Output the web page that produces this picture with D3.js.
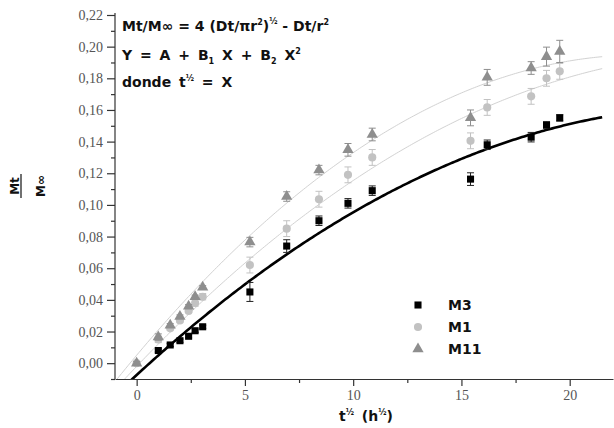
<!DOCTYPE html>
<html>
<head>
<meta charset="utf-8">
<script src="https://cdn.jsdelivr.net/npm/d3@7"></script>
<style>
  body { margin: 0; background: #fff; }
  svg { display: block; }
  .tick text { font-family: "Liberation Serif", "Times New Roman", serif; font-size: 14px; fill: #555; }
  .bold { font-family: "DejaVu Sans", Arial, sans-serif; font-weight: bold; fill: #111; }
</style>
</head>
<body>
<div id="chart"></div>
<script>
// t^1/2 values (h^1/2)
var xM3 = [1.0, 1.55, 2.0, 2.4, 2.7, 3.05, 5.23, 6.93, 8.42, 9.76, 10.88, 15.42, 16.19, 18.22, 18.93, 19.54];
var yM3 = [0.008, 0.0115, 0.0142, 0.017, 0.0205, 0.023, 0.045, 0.074, 0.090, 0.101, 0.109, 0.1163, 0.138, 0.1428, 0.1505, 0.155];
var eM3 = [0.001, 0.001, 0.001, 0.001, 0.001, 0.001, 0.006, 0.004, 0.003, 0.003, 0.003, 0.004, 0.003, 0.003, 0.002, 0.002];

var xM1 = [0, 1.0, 1.55, 2.0, 2.4, 2.7, 3.05, 5.23, 6.93, 8.42, 9.76, 10.88, 15.42, 16.19, 18.22, 18.93, 19.54];
var yM1 = [0.0, 0.015, 0.022, 0.027, 0.033, 0.038, 0.042, 0.062, 0.085, 0.1036, 0.119, 0.130, 0.1405, 0.1616, 0.1686, 0.180, 0.1844];
var eM1 = [0.001, 0.002, 0.001, 0.001, 0.001, 0.002, 0.002, 0.005, 0.005, 0.005, 0.005, 0.005, 0.005, 0.005, 0.005, 0.005, 0.005];

var xM11 = [0, 1.0, 1.55, 2.0, 2.4, 2.7, 3.05, 5.23, 6.93, 8.42, 9.76, 10.88, 15.42, 16.19, 18.22, 18.93, 19.54];
var yM11 = [0.0, 0.0165, 0.024, 0.0295, 0.036, 0.042, 0.048, 0.0765, 0.1053, 0.122, 0.1348, 0.1445, 0.155, 0.1806, 0.1865, 0.1937, 0.197];
var eM11 = [0.001, 0.002, 0.001, 0.001, 0.001, 0.001, 0.001, 0.003, 0.003, 0.003, 0.004, 0.004, 0.005, 0.005, 0.004, 0.006, 0.007];

// fitted Y = A + B1 X + B2 X^2 for M3, M1, M11
var seriesNames = ['M3', 'M1', 'M11'];
var fitA  = [-0.0075, -0.0020, 0.0050];
var fitB1 = [0.01263, 0.01434, 0.01630];
var fitB2 = [-0.000235, -0.00026, -0.00035];

var xTicks = [0, 5, 10, 15, 20];
var yTicks = [0, 0.02, 0.04, 0.06, 0.08, 0.10, 0.12, 0.14, 0.16, 0.18, 0.20, 0.22];

var width = 614, height = 428;
var margin = { top: 15, right: 1, bottom: 49, left: 115 };

var x = d3.scaleLinear().domain([-1, 22]).range([margin.left, width - margin.right]);
var y = d3.scaleLinear().domain([-0.01, 0.22]).range([height - margin.bottom, margin.top]);

var svg = d3.select("#chart").append("svg").attr("width", width).attr("height", height);

var styles = [
  { sym: d3.symbolSquare, size: 50, color: '#000', line: '#000', lw: 2.6 },
  { sym: d3.symbolCircle, size: 52, color: '#c2c2c2', line: '#d2d2d2', lw: 1 },
  { sym: d3.symbolTriangle, size: 55, color: '#8e8e8e', line: '#d2d2d2', lw: 1 }
];

var fmt = function(d) { return d3.format(".2f")(d).replace('.', ','); };

// axes
svg.append("g").attr("transform", "translate(0," + y(-0.01) + ")")
  .call(d3.axisBottom(x).tickValues(xTicks).tickSize(7).tickPadding(4).tickSizeOuter(0));
svg.append("g").attr("transform", "translate(0," + y(-0.01) + ")")
  .call(d3.axisBottom(x).tickValues([2.5, 7.5, 12.5, 17.5]).tickSize(4).tickFormat("").tickSizeOuter(0))
  .select(".domain").remove();

var yAxis = svg.append("g").attr("transform", "translate(" + x(-1) + ",0)")
  .call(d3.axisLeft(y).tickValues(yTicks).tickFormat(fmt).tickSize(8).tickPadding(4).tickSizeOuter(0));
svg.append("g").attr("transform", "translate(" + x(-1) + ",0)")
  .call(d3.axisLeft(y).tickValues(d3.range(-0.01, 0.22, 0.02)).tickSize(4).tickFormat("").tickSizeOuter(0))
  .select(".domain").remove();

svg.selectAll(".domain, .tick line").attr("stroke", "#333").attr("stroke-width", 1.2);
yAxis.select(".domain").attr("d", "M0," + (margin.top - 2) + "V" + y(-0.01));

// clip for fit curves
svg.append("clipPath").attr("id", "plotclip").append("rect")
  .attr("x", x(-1)).attr("y", margin.top - 2)
  .attr("width", x(22) - x(-1)).attr("height", y(-0.01) - margin.top + 2);

var line = d3.line().x(function(d) { return x(d[0]); }).y(function(d) { return y(d[1]); });
var xs = d3.range(-1, 21.55, 0.1);

// draw light fits first, black last
[1, 2, 0].forEach(function(i) {
  var pts = xs.map(function(v) { return [v, fitA[i] + fitB1[i] * v + fitB2[i] * v * v]; });
  svg.append("path").attr("clip-path", "url(#plotclip)")
    .attr("d", line(pts)).attr("fill", "none")
    .attr("stroke", styles[i].line).attr("stroke-width", styles[i].lw);
});

var series = [
  { xs: xM3, ys: yM3, es: eM3 },
  { xs: xM1, ys: yM1, es: eM1 },
  { xs: xM11, ys: yM11, es: eM11 }
];

series.forEach(function(s, i) {
  var st = styles[i];
  var data = s.xs.map(function(v, k) { return { x: v, y: s.ys[k], e: s.es[k] }; });
  var g = svg.append("g");
  var eb = g.selectAll(".eb").data(data).enter().append("g")
    .attr("stroke", i == 0 ? '#222' : st.color).attr("stroke-width", 1);
  eb.append("line")
    .attr("x1", function(d) { return x(d.x); }).attr("x2", function(d) { return x(d.x); })
    .attr("y1", function(d) { return y(d.y - d.e); }).attr("y2", function(d) { return y(d.y + d.e); });
  eb.append("line")
    .attr("x1", function(d) { return x(d.x) - 3.5; }).attr("x2", function(d) { return x(d.x) + 3.5; })
    .attr("y1", function(d) { return y(d.y + d.e); }).attr("y2", function(d) { return y(d.y + d.e); });
  eb.append("line")
    .attr("x1", function(d) { return x(d.x) - 3.5; }).attr("x2", function(d) { return x(d.x) + 3.5; })
    .attr("y1", function(d) { return y(d.y - d.e); }).attr("y2", function(d) { return y(d.y - d.e); });
  g.selectAll(".pt").data(data).enter().append("path")
    .attr("d", d3.symbol().type(st.sym).size(st.size))
    .attr("transform", function(d) { return "translate(" + x(d.x) + "," + y(d.y) + ")"; })
    .attr("fill", st.color);
});

// legend
var legend = svg.append("g");
seriesNames.forEach(function(name, i) {
  var ly = 305 + i * 22;
  legend.append("path").attr("d", d3.symbol().type(styles[i].sym).size(styles[i].size))
    .attr("transform", "translate(418," + ly + ")").attr("fill", styles[i].color);
  legend.append("text").attr("class", "bold").attr("x", 448).attr("y", ly + 5)
    .attr("font-size", 14).text(name);
});

// equation block
var eq = svg.append("g").attr("class", "bold").attr("font-size", 14);
var t1 = eq.append("text").attr("x", 122).attr("y", 31);
t1.append("tspan").text("Mt/M\u221E = 4 (Dt/\u03C0r");
t1.append("tspan").attr("dy", -6).attr("font-size", 8).text("2");
t1.append("tspan").attr("dy", 6).text(")");
t1.append("tspan").attr("dy", -7).attr("font-size", 8).text("\u00BD");
t1.append("tspan").attr("dy", 7).text(" - Dt/r");
t1.append("tspan").attr("dy", -6).attr("font-size", 8).text("2");

var t2 = eq.append("text").attr("x", 122).attr("y", 60).attr("word-spacing", 3);
t2.append("tspan").text("Y = A + B");
t2.append("tspan").attr("dy", 4).attr("font-size", 8).text("1");
t2.append("tspan").attr("dy", -4).text(" X + B");
t2.append("tspan").attr("dy", 4).attr("font-size", 8).text("2");
t2.append("tspan").attr("dy", -4).text(" X");
t2.append("tspan").attr("dy", -6).attr("font-size", 8).text("2");

var t3 = eq.append("text").attr("x", 122).attr("y", 87).attr("word-spacing", 3);
t3.append("tspan").text("donde t");
t3.append("tspan").attr("dy", -6).attr("font-size", 8).text("\u00BD");
t3.append("tspan").attr("dy", 6).text(" = X");

// x axis title
var xt = svg.append("text").attr("class", "bold").attr("font-size", 14)
  .attr("x", 339).attr("y", 421).attr("word-spacing", 3);
xt.append("tspan").text("t");
xt.append("tspan").attr("dy", -6).attr("font-size", 8).text("\u00BD");
xt.append("tspan").attr("dy", 6).text(" (h");
xt.append("tspan").attr("dy", -6).attr("font-size", 8).text("\u00BD");
xt.append("tspan").attr("dy", 6).text(")");

// y axis title (fraction, rotated)
var yt = svg.append("g").attr("transform", "translate(0,186) rotate(-90)");
yt.append("text").attr("class", "bold").attr("font-size", 12).attr("text-anchor", "middle")
  .attr("x", 0).attr("y", 19).text("Mt");
yt.append("line").attr("x1", -12).attr("x2", 12).attr("y1", 21).attr("y2", 21)
  .attr("stroke", "#111").attr("stroke-width", 1.2);
yt.append("text").attr("class", "bold").attr("font-size", 12).attr("text-anchor", "middle")
  .attr("x", 0).attr("y", 45).text("M\u221E");
</script>
</body>
</html>
